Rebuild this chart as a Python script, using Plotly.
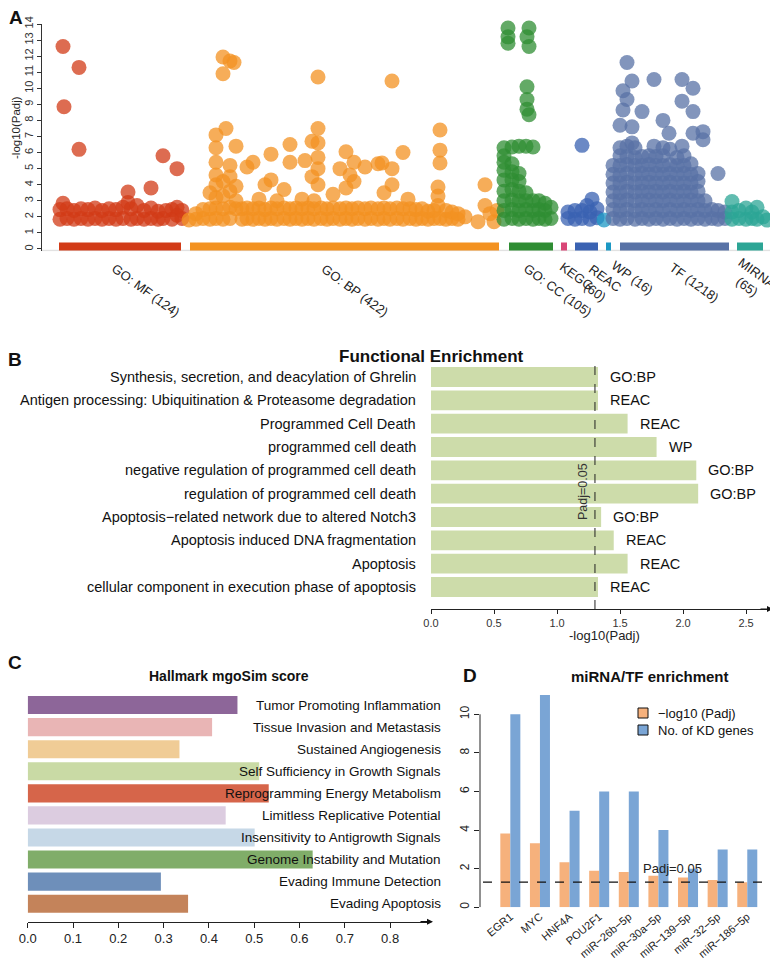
import plotly.graph_objects as go

# The page body adds an 8px margin; coordinates below refer to the final
# 778x959 screenshot, so they are shifted by that offset.
OFF = 8
W, H = 778, 959
def X(px): return (px - OFF) / W
def Y(py): return 1 - (py - OFF) / H

SANS = "Liberation Sans, Arial, sans-serif"
NARROW = "Liberation Sans, Arial, sans-serif"

# ---------------- Panel A : Manhattan plot (term position, -log10 Padj) ----------------
src_names = ["GO:MF", "GO:BP", "GO:CC", "KEGG", "REAC", "WP", "TF", "MIRNA", "HP"]
src_labels = ["GO: MF (124)", "GO: BP (422)", "GO: CC (105)", "KEGG", "REAC<br>(60)",
              "WP (16)", "TF (1218)", "MIRNA<br>(65)", ""]
src_start = [59, 190, 509, 561, 575, 606, 620, 737, 771]
src_end = [181, 499, 553, 567, 598, 611, 729, 763, 773]
src_colors = ["#d23b17", "#f39221", "#2f8d33", "#d94677", "#3a62b2", "#1c98c4",
              "#5872a6", "#2ca595", "#d0d0d0"]

MF_terms = [(60, [1.85, 2.45]), (63, [2.85, 12.6]), (64, [8.85]), (67, [1.9, 2.5]),
            (74, [1.85, 2.4]), (79, [6.2, 11.3]), (81, [1.9, 2.5]), (88, [1.85, 2.45]),
            (95, [1.9, 2.55]), (102, [1.85, 2.4]), (109, [1.9, 2.5]), (116, [1.85, 2.45]),
            (123, [1.9, 2.6]), (128, [2.9, 3.55]), (131, [1.85, 2.5]), (137, [1.9, 2.7]),
            (144, [1.85, 2.4]), (151, [1.9, 2.55, 3.8]), (158, [1.85, 2.35]), (163, [1.9, 5.8]),
            (166, [2.4]), (172, [1.85, 2.45]), (177, [2.1, 2.6, 5.0]), (182, [1.9, 2.4])]

BP_terms = [(189, [1.8]), (196, [1.85, 2.2]), (203, [1.9, 2.45]), (210, [1.85, 2.5, 3.5]),
            (216, [1.9, 2.55, 3.2, 4.0, 4.6, 5.4, 6.3, 7.1]), (223, [1.85, 2.5, 3.3, 4.2, 10.9, 11.95]),
            (226, [7.5]), (230, [1.9, 2.6, 3.6, 4.5, 5.2, 11.7]), (234, [11.6]),
            (236, [2.5, 3.0, 3.9, 6.4]), (242, [1.85, 2.5]), (247, [1.9, 2.55, 5.1]),
            (253, [1.85, 2.5, 5.4]), (259, [1.9, 2.55, 3.1]), (265, [1.85, 2.45, 4.0]),
            (271, [1.9, 2.55, 4.3, 5.9]), (277, [1.85, 2.5, 3.0]), (284, [1.9, 2.55, 3.7]),
            (290, [1.85, 2.5, 5.4, 6.5]), (296, [1.9, 2.55]), (302, [1.85, 2.5, 3.1]), (305, [5.5]),
            (308, [1.9, 2.55]), (312, [4.5, 6.7]), (314, [1.85, 2.5, 3.0]),
            (318, [4.0, 5.0, 5.7, 6.6, 7.5, 10.7]), (321, [1.9, 2.55]), (327, [1.85, 2.5]),
            (333, [1.9, 2.55, 3.4]), (340, [1.85, 2.5, 5.0]), (346, [1.9, 2.55, 3.8, 6.05]),
            (350, [4.6]), (352, [1.85, 2.5]), (354, [4.2, 5.4]), (358, [1.9, 2.55]),
            (365, [1.85, 2.5, 5.1]), (371, [1.9, 2.55]), (378, [1.85, 2.5, 5.3]), (382, [5.35]),
            (384, [1.9, 2.55, 3.5]), (390, [1.85, 2.5]), (392, [4.0, 5.0, 10.45]), (397, [1.9, 2.55]),
            (403, [1.85, 2.5, 6.0]), (408, [3.1]), (410, [1.9, 2.5]), (416, [1.85, 2.45]),
            (422, [1.9, 2.5]), (428, [1.85, 2.35]), (434, [1.9, 2.4]), (438, [2.7, 3.3, 3.85]),
            (440, [1.9, 5.35, 6.15, 7.4]), (446, [1.85, 2.4]), (452, [1.9, 2.3]), (458, [1.85, 2.2]),
            (465, [2.0]), (478, [1.7]), (485, [2.7, 4.0]), (490, [2.2]), (494, [1.7]), (497, [2.4])]

CC_terms = [(504, [1.85, 2.4, 3.0, 3.6, 4.3, 4.9, 5.4, 5.8, 6.3]), (508, [12.8, 13.2, 13.75]),
            (512, [1.9, 2.45, 3.05, 3.7, 4.3, 4.8, 5.3, 6.35]), (519, [1.85, 2.4, 3.0, 3.6, 4.2, 4.7, 6.4]),
            (526, [1.9, 2.45, 3.0, 3.5, 6.4]), (527, [8.7, 9.3, 10.1, 13.2]), (529, [8.35, 12.6, 13.75]),
            (533, [1.85, 2.4, 3.0, 6.35]), (539, [1.9, 2.45, 3.0]), (545, [1.85, 2.4, 2.85]),
            (551, [1.9, 2.6])]

KEGG_terms = []

REAC_terms = [(568, [1.9, 2.3]), (575, [1.85, 2.4]), (582, [1.9, 2.4, 6.45]), (587, [2.7]),
              (590, [1.85, 2.3]), (592, [3.1]), (597, [1.95, 2.5])]

WP_terms = [(604, [1.8])]

TF_terms = [(613, [1.9, 2.45, 3.0, 3.55, 4.1, 4.65, 5.2]),
            (620, [1.85, 2.4, 3.0, 3.5, 4.1, 4.6, 5.2, 5.8, 6.3, 7.7]), (623, [8.65, 9.85]),
            (627, [1.9, 2.45, 3.05, 3.6, 4.15, 4.7, 5.25, 5.75, 6.4, 9.3, 11.6]),
            (632, [6.6, 7.6, 10.45]), (635, [1.85, 2.4, 3.0, 3.55, 4.1, 4.65, 5.2, 5.7, 6.3]),
            (642, [1.9, 2.45, 3.0, 3.6, 4.1, 4.7, 5.2, 5.75, 8.55]),
            (649, [1.85, 2.4, 3.05, 3.55, 4.15, 4.65, 5.25, 5.8]), (654, [6.4, 10.55]),
            (656, [1.9, 2.45, 3.0, 3.6, 4.1, 4.7, 5.2, 5.75]),
            (663, [1.85, 2.4, 3.0, 3.55, 4.1, 4.65, 5.2, 5.8, 6.3, 8.0]), (669, [7.2]),
            (670, [1.9, 2.45, 3.05, 3.6, 4.15, 4.7, 5.25, 6.2]),
            (677, [1.85, 2.4, 3.0, 3.55, 4.1, 4.65, 5.2, 5.7]), (682, [6.4, 9.2, 10.55]),
            (684, [1.9, 2.45, 3.0, 3.6, 4.1, 4.7, 5.2, 5.8]),
            (691, [1.85, 2.4, 3.05, 3.55, 4.1, 4.65, 5.3]), (693, [7.2, 8.55, 10.0]),
            (698, [1.9, 2.45, 3.0, 3.6, 4.2, 4.7]), (703, [6.8, 7.3]), (705, [1.85, 2.4, 3.0]),
            (712, [1.9, 2.45]), (718, [1.85, 2.4, 4.7]), (725, [1.9, 2.3])]

MIRNA_terms = [(732, [1.85, 2.3, 2.95]), (739, [1.9, 2.4]), (746, [1.85, 2.55]), (752, [1.9, 2.3]),
               (757, [1.85, 2.6]), (763, [2.0]), (767, [1.8])]

HP_terms = []

all_terms = [MF_terms, BP_terms, CC_terms, KEGG_terms, REAC_terms, WP_terms, TF_terms,
             MIRNA_terms, HP_terms]

# ---------------- Panel B : functional enrichment ----------------
func_terms = ["Synthesis, secretion, and deacylation of Ghrelin",
              "Antigen processing: Ubiquitination & Proteasome degradation",
              "Programmed Cell Death",
              "programmed cell death",
              "negative regulation of programmed cell death",
              "regulation of programmed cell death",
              "Apoptosis\u2212related network due to altered Notch3",
              "Apoptosis induced DNA fragmentation",
              "Apoptosis",
              "cellular component in execution phase of apoptosis"]
func_vals = [1.325, 1.325, 1.56, 1.79, 2.105, 2.12, 1.35, 1.45, 1.56, 1.325]
func_src = ["GO:BP", "REAC", "REAC", "WP", "GO:BP", "GO:BP", "GO:BP", "REAC", "REAC", "REAC"]
padj_cut = 1.301

# ---------------- Panel C : Hallmark mgoSim ----------------
hallmarks = ["Tumor Promoting Inflammation", "Tissue Invasion and Metastasis",
             "Sustained Angiogenesis", "Self Sufficiency in Growth Signals",
             "Reprogramming Energy Metabolism", "Limitless Replicative Potential",
             "Insensitivity to Antigrowth Signals", "Genome Instability and Mutation",
             "Evading Immune Detection", "Evading Apoptosis"]
hallmark_scores = [0.463, 0.407, 0.335, 0.511, 0.532, 0.437, 0.501, 0.629, 0.294, 0.354]
hallmark_colors = ["#8d6699", "#e9b5b5", "#f0cc96", "#c9daa5", "#d6654a", "#dccce0",
                   "#c6d8e7", "#80ad69", "#6e8fba", "#c4835a"]

# ---------------- Panel D : miRNA/TF enrichment ----------------
regulators = ["EGR1", "MYC", "HNF4A", "POU2F1", "miR\u221226b\u22125p", "miR\u221230a\u22125p",
              "miR\u2212139\u22125p", "miR\u221232\u22125p", "miR\u2212186\u22125p"]
reg_logp = [3.83, 3.32, 2.33, 1.90, 1.83, 1.64, 1.54, 1.42, 1.30]
reg_kd = [10, 11, 5, 6, 6, 4, 2, 3, 3]

fig = go.Figure()

# Panel A traces
for name, terms, col in zip(src_names, all_terms, src_colors):
    xs, ys = [], []
    for xp, yl in terms:
        for yv in yl:
            xs.append(xp)
            ys.append(yv)
    if not xs:
        continue
    fig.add_trace(go.Scatter(x=xs, y=ys, mode="markers", name=name, xaxis="x", yaxis="y",
                             cliponaxis=False,
                             marker=dict(size=15, color=col, opacity=0.75, line=dict(width=0))))

# Panel B
fig.add_trace(go.Bar(x=func_vals, y=list(range(len(func_vals))), orientation="h",
                     width=0.85, marker=dict(color="#cddcaa", line=dict(width=0)),
                     xaxis="x2", yaxis="y2"))
# Panel C
fig.add_trace(go.Bar(x=hallmark_scores, y=list(range(len(hallmark_scores))), orientation="h",
                     width=0.82, marker=dict(color=hallmark_colors, line=dict(width=0)),
                     xaxis="x3", yaxis="y3"))
# Panel D
fig.add_trace(go.Bar(x=regulators, y=reg_logp, name="\u2212log10 (Padj)",
                     marker=dict(color="#f6b17c", line=dict(width=0)), xaxis="x4", yaxis="y4"))
fig.add_trace(go.Bar(x=regulators, y=reg_kd, name="No. of KD genes",
                     marker=dict(color="#7aa5d5", line=dict(width=0)), xaxis="x4", yaxis="y4"))

shapes = []
ann = []

def note(text, px, py, size, family=SANS, angle=0, xa="center", color="#222"):
    ann.append(dict(text=text, x=X(px), y=Y(py), xref="paper", yref="paper", showarrow=False,
                    textangle=angle, xanchor=xa, yanchor="middle",
                    font=dict(family=family, size=size, color=color)))

# Panel A decorations
shapes.append(dict(type="line", xref="x", yref="y", x0=42, x1=775, y0=-0.1, y1=-0.1,
                   line=dict(color="#e2e2e2", width=1.5)))
for s, e, c in zip(src_start, src_end, src_colors):
    shapes.append(dict(type="rect", xref="x", yref="y", x0=s, x1=e, y0=-0.1, y1=0.4,
                       fillcolor=c, line=dict(width=0)))
label_pos = [(146, 290), (355, 290), (558, 290), (577, 276), (600, 285), (632, 277),
             (694, 282), (752, 280), (0, 0)]
for txt, (lx, ly) in zip(src_labels, label_pos):
    if txt:
        note(txt, lx, ly, 13, angle=36)
note("-log10(Padj)", 16, 128, 11.5, angle=-90)

# Panel B decorations
for i, (t, v, s) in enumerate(zip(func_terms, func_vals, func_src)):
    ann.append(dict(text=t, x=X(418), y=i, xref="paper", yref="y2", xanchor="right",
                    showarrow=False, font=dict(family=NARROW, size=14.5, color="#111")))
    ann.append(dict(text=s, x=v + 0.08, y=i, xref="x2", yref="y2", xanchor="left",
                    showarrow=False, font=dict(family=NARROW, size=14.5, color="#111")))
shapes.append(dict(type="line", xref="x2", yref="paper", x0=padj_cut, x1=padj_cut,
                   y0=Y(609), y1=Y(366), line=dict(color="#222", width=1, dash="dash")))
note("Padj=0.05", 583, 492, 12.5, family=NARROW, angle=-90, color="#333")
note("<b>Functional Enrichment</b>", 432, 356, 17, family=NARROW, color="#111")
note("-log10(Padj)", 604, 635, 13)
ann.append(dict(text="", x=X(773), y=Y(609), xref="paper", yref="paper", showarrow=True,
                ax=-14, ay=0, arrowhead=2, arrowsize=1, arrowwidth=1.2, arrowcolor="#111"))

# Panel C decorations
for i, t in enumerate(hallmarks):
    ann.append(dict(text=t, x=X(443), y=i, xref="paper", yref="y3", xanchor="right",
                    showarrow=False, font=dict(family=SANS, size=13.5, color="#111")))
note("<b>Hallmark mgoSim score</b>", 229, 676, 14, color="#111")
ann.append(dict(text="", x=X(433), y=Y(921.7), xref="paper", yref="paper", showarrow=True,
                ax=-14, ay=0, arrowhead=2, arrowsize=1, arrowwidth=1.2, arrowcolor="#111"))

# Panel D decorations
shapes.append(dict(type="line", xref="paper", yref="y4", x0=X(480), x1=X(480), y0=0, y1=10,
                   line=dict(color="#222", width=1)))
shapes.append(dict(type="line", xref="paper", yref="y4", x0=X(483), x1=X(768), y0=padj_cut,
                   y1=padj_cut, line=dict(color="#111", width=1.2, dash="dash")))
note("Padj=0.05", 672, 868, 13)
note("<b>miRNA/TF enrichment</b>", 650, 676, 15, color="#111")
for k, (lbl, col) in enumerate([("\u2212log10 (Padj)", "#f6b17c"), ("No. of KD genes", "#7aa5d5")]):
    yc = 713 + 17 * k
    shapes.append(dict(type="rect", xref="paper", yref="paper", x0=X(638), x1=X(648),
                       y0=Y(yc + 5), y1=Y(yc - 5), fillcolor=col, line=dict(color="#111", width=1)))
    note(lbl, 656, yc, 13, xa="left", color="#111")

# Panel letters
for L, (lx, ly) in zip("ABCD", [(16, 18), (15, 359), (15, 662), (470, 675)]):
    note("<b>%s</b>" % L, lx, ly, 19, color="#111")

fig.update_layout(
    width=W, height=H, margin=dict(l=0, r=0, t=0, b=0, autoexpand=False),
    paper_bgcolor="white", plot_bgcolor="white", showlegend=False,
    barmode="group", bargap=0.324, bargroupgap=0,
    font=dict(family=SANS, color="#222"),
    xaxis=dict(domain=[X(42), X(775)], range=[42, 775], anchor="y", showticklabels=False,
               showgrid=False, zeroline=False, showline=False, ticks="", automargin=False),
    yaxis=dict(domain=[Y(251.4), Y(24)], range=[-0.15, 14], anchor="x",
               tickvals=list(range(15)), tickangle=-90, ticks="outside", ticklen=4,
               tickcolor="#333", showline=True, linecolor="#333", linewidth=1,
               showgrid=False, zeroline=False, tickfont=dict(size=11, color="#333"),
               automargin=False),
    xaxis2=dict(domain=[X(431), X(770)], range=[0, 2.69], anchor="y2",
                tickvals=[0, 0.5, 1, 1.5, 2, 2.5], ticktext=["0.0", "0.5", "1.0", "1.5", "2.0", "2.5"],
                ticks="outside", ticklen=4, tickcolor="#222", showline=True, linecolor="#222",
                showgrid=False, zeroline=False, tickfont=dict(size=11, color="#333"),
                automargin=False),
    yaxis2=dict(domain=[Y(609), Y(365.3)], range=[9.944, -0.5], anchor="x2", visible=False,
                automargin=False),
    xaxis3=dict(domain=[X(27.7), X(430)], range=[0, 0.888], anchor="y3",
                tickvals=[0, 0.1, 0.2, 0.3, 0.4, 0.5, 0.6, 0.7, 0.8],
                ticktext=["0.0", "0.1", "0.2", "0.3", "0.4", "0.5", "0.6", "0.7", "0.8"],
                ticks="outside", ticklen=5, tickcolor="#222", showline=True, linecolor="#222",
                showgrid=False, zeroline=False, tickfont=dict(size=13, color="#222"),
                automargin=False),
    yaxis3=dict(domain=[Y(921.7), Y(694)], range=[9.815, -0.5], anchor="x3", visible=False,
                automargin=False),
    xaxis4=dict(domain=[X(480), X(768)], range=[-1.024, 8.7], anchor="y4", type="category",
                tickangle=-40, ticks="", showline=False, showgrid=False, zeroline=False,
                tickfont=dict(size=11, color="#222"), automargin=False),
    yaxis4=dict(domain=[Y(907.3), Y(689.2)], range=[0, 11.3], anchor="x4",
                tickvals=[0, 2, 4, 6, 8, 10], tickangle=-90, ticks="outside", ticklen=5,
                tickcolor="#222", showline=False, showgrid=False, zeroline=False,
                tickfont=dict(size=12, color="#222"), automargin=False),
    shapes=shapes, annotations=ann,
)

fig.write_html("out.html")
